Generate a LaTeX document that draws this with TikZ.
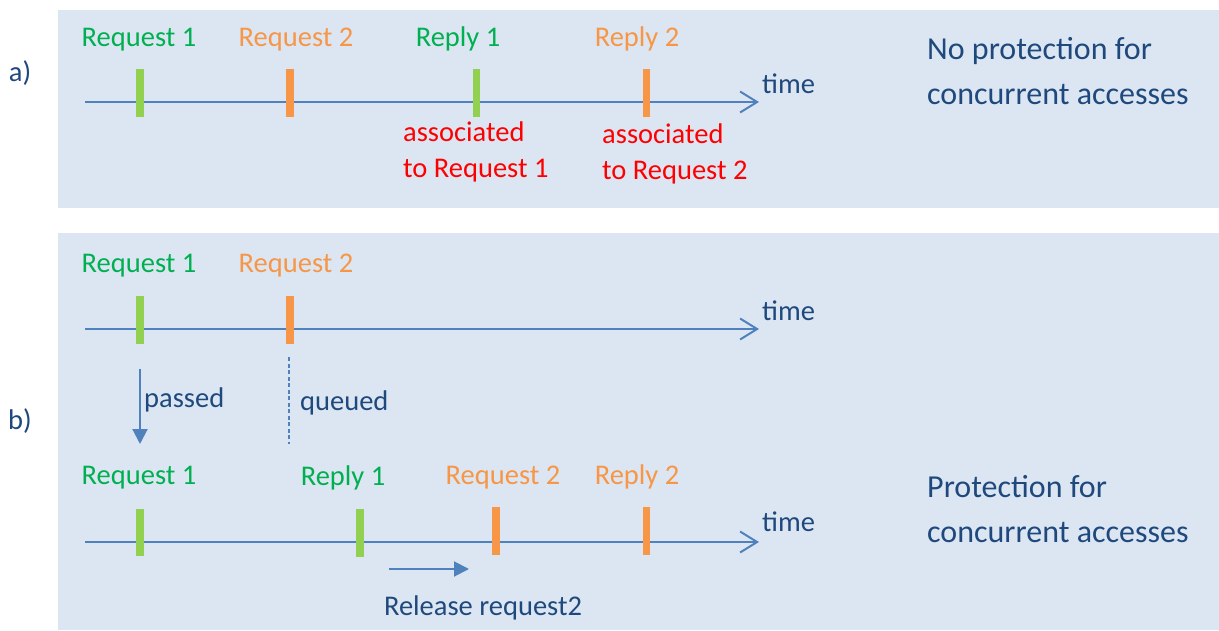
\documentclass[tikz,border=0pt]{standalone}
\usepackage{fontspec}
\setmainfont{Carlito}
\usetikzlibrary{arrows.meta}
\definecolor{panel}{HTML}{DCE6F2}
\definecolor{lblgreen}{HTML}{00B050}
\definecolor{bargreen}{HTML}{92D050}
\definecolor{orng}{HTML}{F79646}
\definecolor{dblue}{HTML}{1F497D}
\definecolor{lblue}{HTML}{4F81BD}
\definecolor{rred}{HTML}{FF0000}
\tikzset{
  lbl/.style={font=\fontsize{28.5}{36}\selectfont, inner sep=0pt, anchor=base},
  big/.style={font=\fontsize{32}{45}\selectfont, inner sep=0pt, anchor=base west, align=left, text=dblue},
  timeline/.style={draw=lblue, line width=2pt, -{Straight Barb[length=17pt,width=21pt,line width=2pt]}},
  gbar/.style={fill=bargreen, draw=none},
  obar/.style={fill=orng, draw=none},
  solidarrow/.style={draw=lblue, line width=2pt, -{Triangle[length=15pt,width=15pt]}},
}
\begin{document}
\begin{tikzpicture}[x=1pt,y=-1pt]
\useasboundingbox (0,0) rectangle (1219,630);
\fill[white] (0,0) rectangle (1219,630);
% panels
\fill[panel] (58,10) rectangle (1219,208);
\fill[panel] (58,233) rectangle (1219,630);

% ---------- a) ----------
\node[lbl, text=dblue] (la) at (20,81) {a)};
\coordinate (a0) at (85,102);
\coordinate (a1) at (759,102);
\draw[timeline] (a0) -- (a1);
\fill[gbar] (136,69) rectangle (143.5,117);
\fill[obar] (286,69) rectangle (293.5,117);
\fill[gbar] (472.5,69) rectangle (480,117);
\fill[obar] (642.5,69) rectangle (650,117);
\node[lbl, text=lblgreen] (areq1) at (139,46) {Request 1};
\node[lbl, text=orng] (areq2) at (296,46) {Request 2};
\node[lbl, text=lblgreen] (arep1) at (458,46) {Reply 1};
\node[lbl, text=orng] (arep2) at (637,46) {Reply 2};
\node[lbl, text=dblue, anchor=base west] (atime) at (762,93) {time};
\node[lbl, text=rred, anchor=base west, align=left] (aas1) at (403,177) {associated\\to Request 1};
\node[lbl, text=rred, anchor=base west, align=left] (aas2) at (602,179) {associated\\to Request 2};
\node[big] (anp) at (927,104) {No protection for\\concurrent accesses};

% ---------- b) ----------
\node[lbl, text=dblue] (lb) at (20,429) {b)};
\coordinate (b0) at (85,329);
\coordinate (b1) at (759,329);
\draw[timeline] (b0) -- (b1);
\fill[gbar] (136,296) rectangle (143.5,344);
\fill[obar] (286,296) rectangle (293.5,344);
\node[lbl, text=lblgreen] (breq1) at (139,272) {Request 1};
\node[lbl, text=orng] (breq2) at (296,272) {Request 2};
\node[lbl, text=dblue, anchor=base west] (btime) at (762,320) {time};

\coordinate (ps) at (140,369);
\coordinate (pe) at (140,444);
\draw[solidarrow] (ps) -- (pe);
\node[lbl, text=dblue, anchor=base west] (passed) at (144,407) {passed};
\coordinate (qs) at (289,357);
\coordinate (qe) at (289,444);
\draw[lblue, line width=2pt, dash pattern=on 4pt off 2.5pt] (qs) -- (qe);
\node[lbl, text=dblue, anchor=base west] (queued) at (300,410) {queued};

\coordinate (c0) at (85,542);
\coordinate (c1) at (759,542);
\draw[timeline] (c0) -- (c1);
\fill[gbar] (136,509) rectangle (143.5,556);
\fill[gbar] (356,509) rectangle (364,557);
\fill[obar] (492,507) rectangle (500,555);
\fill[obar] (642.5,507) rectangle (650,555);
\node[lbl, text=lblgreen] (creq1) at (139,484) {Request 1};
\node[lbl, text=lblgreen] (crep1) at (343,485) {Reply 1};
\node[lbl, text=orng] (creq2) at (503,484) {Request 2};
\node[lbl, text=orng] (crep2) at (637,484) {Reply 2};
\node[lbl, text=dblue, anchor=base west] (ctime) at (762,531) {time};

\coordinate (rs) at (389,569);
\coordinate (re) at (469,569);
\draw[solidarrow] (rs) -- (re);
\node[lbl, text=dblue] (rel) at (483,615) {Release request2};
\node[big] (bp) at (927,542) {Protection for\\concurrent accesses};
\end{tikzpicture}
\end{document}
